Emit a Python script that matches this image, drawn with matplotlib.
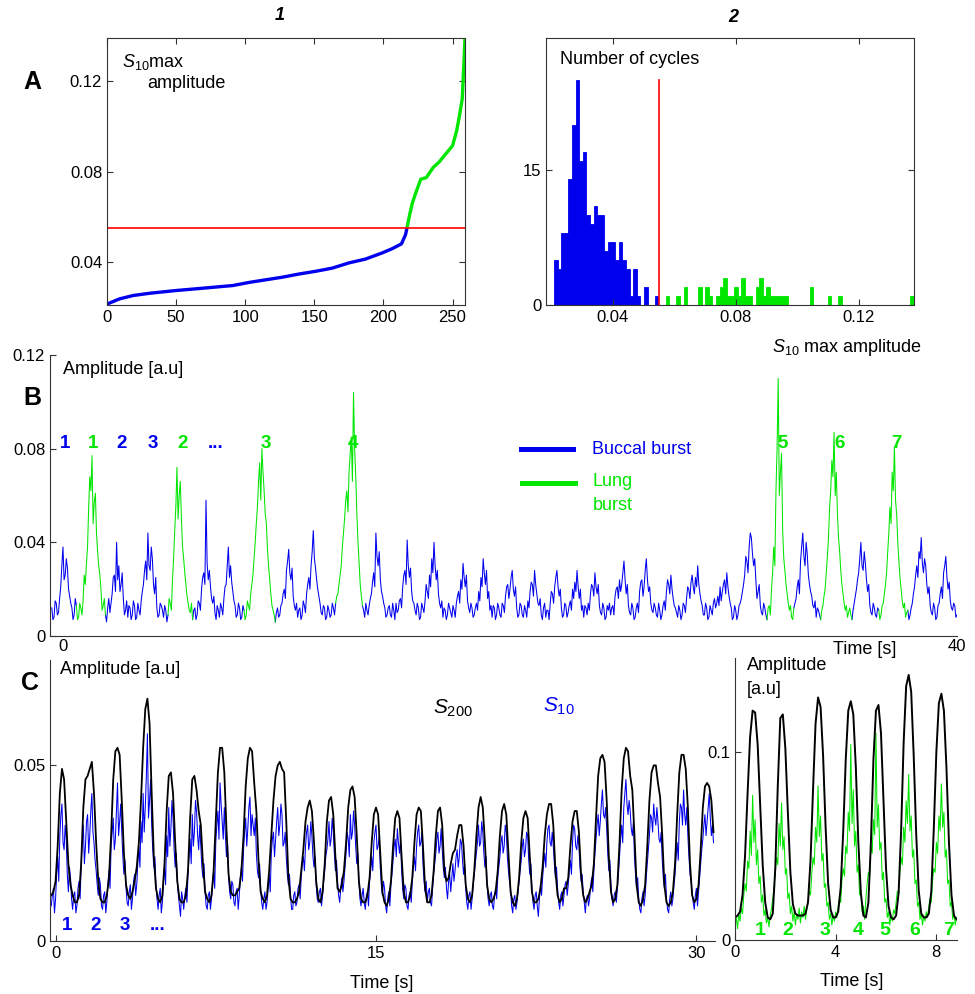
import numpy as np
import matplotlib
matplotlib.use('Agg')
import matplotlib.pyplot as plt
from matplotlib.lines import Line2D

plt.rcParams['font.family'] = ['Liberation Sans', 'DejaVu Sans']
plt.rcParams['mathtext.fontset'] = 'custom'
plt.rcParams['mathtext.rm'] = 'Liberation Sans'
plt.rcParams['mathtext.it'] = 'Liberation Sans:italic'
plt.rcParams['mathtext.bf'] = 'Liberation Sans:bold'
plt.rcParams['axes.linewidth'] = 0.8
plt.rcParams['axes.edgecolor'] = '#333333'
plt.rcParams['xtick.direction'] = 'in'
plt.rcParams['ytick.direction'] = 'in'
plt.rcParams['xtick.color'] = '#333333'
plt.rcParams['ytick.color'] = '#333333'
plt.rcParams['xtick.labelcolor'] = 'black'
plt.rcParams['ytick.labelcolor'] = 'black'

BLUE = '#0000ee'
GREEN = '#00e600'

# ---- data ----
threshold = 0.055

# A1: sorted S10 max amplitude per cycle (rank, value)
a1_rank = [0, 9, 19, 31, 50, 67, 91, 103, 127, 139, 151, 163, 175, 187, 199, 206,
           213, 216, 217, 219, 221, 223, 227, 231, 236, 240, 245, 250, 253, 255,
           257, 258, 259]
a1_value = [0.0214, 0.0237, 0.0252, 0.0262, 0.0274, 0.0283, 0.0296, 0.0310, 0.0333,
            0.0347, 0.0359, 0.0373, 0.0396, 0.0413, 0.0440, 0.0458, 0.0480, 0.0521,
            0.0550, 0.0610, 0.0662, 0.0699, 0.0766, 0.0773, 0.0818, 0.0840, 0.0877,
            0.0914, 0.0981, 0.1047, 0.1121, 0.1250, 0.1390]

# A2: histogram of the same values, 100 bins
hist_lo, hist_hi = 0.0209, 0.138
hist_counts = [5, 4, 8, 8, 14, 20, 25, 16, 17, 10, 9, 11, 10, 10, 6, 7, 7, 5, 7, 5,
               4, 1, 4, 1, 0, 2, 0, 0, 1, 0, 0, 1, 0, 0, 1, 0, 2, 0, 0, 0,
               2, 0, 2, 1, 0, 1, 2, 3, 1, 1, 2, 1, 3, 1, 1, 0, 2, 3, 1, 2,
               1, 1, 1, 1, 1, 0, 0, 0, 0, 0, 0, 2, 0, 0, 0, 0, 1, 0, 0, 1,
               0, 0, 0, 0, 0, 0, 0, 0, 0, 0, 0, 0, 0, 0, 0, 0, 0, 0, 0, 1]
hist_line_top = 25

# B: S10 amplitude (x1e-3), samples every 0.1 s from -0.5 s, plus the
# samples halfway between them
b_t0, b_dt = -0.5, 0.1
b_s10 = [12, 8, 14, 10, 21, 38, 26, 29, 17, 12,
         9, 13, 8, 12, 15, 22, 38, 68, 77, 57,
         44, 30, 20, 13, 9, 12, 10, 18, 26, 40,
         30, 22, 16, 11, 8, 12, 9, 13, 8, 11,
         15, 22, 32, 44, 28, 33, 18, 12, 9, 13,
         8, 11, 9, 14, 24, 45, 72, 60, 50, 33,
         22, 14, 10, 7, 12, 9, 14, 20, 27, 58,
         24, 21, 14, 10, 13, 8, 12, 16, 22, 38,
         30, 19, 13, 9, 12, 8, 11, 9, 13, 18,
         26, 40, 55, 74, 80, 62, 48, 30, 18, 11,
         6, 12, 9, 14, 20, 28, 37, 24, 17, 11,
         8, 12, 9, 13, 18, 25, 30, 45, 29, 20,
         14, 9, 12, 8, 11, 9, 12, 14, 18, 26,
         38, 50, 62, 70, 85, 104, 68, 40, 22, 13,
         8, 11, 13, 18, 27, 44, 30, 24, 17, 12,
         9, 13, 8, 11, 14, 11, 16, 21, 28, 41,
         25, 19, 14, 9, 12, 8, 12, 15, 19, 26,
         33, 40, 24, 18, 12, 8, 11, 9, 12, 8,
         11, 14, 19, 24, 31, 21, 15, 10, 12, 9,
         14, 19, 25, 33, 22, 16, 11, 8, 12, 9,
         12, 8, 13, 17, 22, 20, 28, 17, 12, 9,
         13, 8, 11, 15, 19, 22, 28, 18, 13, 9,
         12, 8, 11, 14, 18, 21, 28, 17, 12, 9,
         13, 10, 15, 20, 23, 28, 16, 11, 8, 12,
         14, 18, 21, 27, 18, 13, 9, 12, 8, 11,
         9, 13, 17, 21, 24, 22, 32, 18, 13, 9,
         12, 8, 14, 19, 24, 21, 33, 19, 14, 10,
         12, 8, 11, 9, 15, 19, 22, 26, 16, 12,
         8, 11, 9, 13, 16, 20, 23, 21, 25, 30,
         18, 13, 9, 12, 8, 11, 14, 12, 17, 21,
         19, 24, 27, 17, 12, 8, 11, 9, 14, 19,
         26, 32, 38, 42, 30, 24, 19, 13, 9, 12,
         7, 13, 20, 38, 62, 110, 70, 45, 28, 18,
         11, 8, 12, 16, 24, 32, 44, 30, 35, 22,
         17, 12, 8, 11, 7, 13, 20, 34, 55, 75,
         87, 70, 42, 28, 18, 11, 8, 12, 7, 14,
         20, 27, 40, 28, 31, 19, 13, 9, 12, 8,
         11, 9, 14, 22, 36, 55, 70, 81, 52, 32,
         20, 12, 8, 11, 9, 14, 21, 30, 36, 42,
         27, 30, 18, 13, 9, 12, 8, 14, 21, 27,
         34, 20, 15, 11, 13, 9]
b_s10_mid = [7, 15, 9, 16, 30, 24, 33, 20, 14, 7,
             16, 7, 14, 9, 26, 31, 55, 62, 48, 61,
             36, 26, 11, 16, 6, 16, 14, 25, 19, 24,
             19, 27, 9, 15, 13, 7, 15, 7, 14, 9,
             19, 28, 24, 30, 38, 22, 25, 8, 14, 11,
             13, 6, 16, 11, 33, 55, 50, 66, 38, 27,
             17, 11, 14, 11, 7, 15, 11, 25, 22, 31,
             28, 16, 17, 7, 11, 14, 9, 21, 30, 25,
             23, 15, 8, 14, 7, 13, 7, 15, 11, 22,
             33, 48, 66, 58, 70, 52, 37, 24, 13, 9,
             10, 8, 13, 18, 16, 32, 27, 29, 13, 14,
             11, 7, 15, 10, 22, 20, 36, 33, 24, 17,
             10, 13, 7, 13, 8, 14, 9, 17, 22, 30,
             44, 58, 53, 78, 66, 80, 52, 31, 17, 11,
             14, 9, 16, 23, 21, 34, 36, 19, 14, 8,
             12, 9, 14, 7, 10, 15, 12, 26, 22, 30,
             29, 15, 11, 14, 7, 14, 10, 22, 16, 21,
             27, 30, 28, 14, 15, 12, 7, 14, 10, 13,
             8, 17, 14, 20, 25, 26, 12, 14, 8, 12,
             11, 15, 21, 27, 28, 19, 13, 13, 7, 14,
             9, 14, 10, 21, 16, 25, 20, 21, 8, 14,
             9, 13, 8, 12, 23, 17, 22, 14, 16, 7,
             14, 11, 7, 19, 14, 25, 21, 20, 8, 14,
             8, 13, 11, 16, 19, 21, 20, 13, 13, 9,
             11, 22, 17, 21, 22, 10, 14, 7, 13, 14,
             12, 9, 20, 16, 19, 27, 24, 22, 10, 14,
             7, 12, 10, 23, 17, 28, 24, 21, 11, 14,
             9, 14, 7, 13, 11, 24, 18, 20, 13, 10,
             13, 7, 14, 10, 21, 16, 26, 18, 21, 22,
             15, 9, 14, 7, 13, 9, 16, 14, 13, 15,
             22, 18, 21, 14, 7, 13, 7, 13, 16, 22,
             34, 27, 44, 35, 33, 16, 22, 10, 14, 9,
             12, 9, 27, 30, 80, 60, 78, 33, 22, 14,
             13, 7, 14, 21, 18, 38, 34, 40, 26, 19,
             13, 15, 12, 9, 11, 17, 27, 42, 62, 68,
             60, 52, 36, 22, 14, 13, 10, 9, 11, 17,
             24, 33, 30, 36, 24, 22, 10, 14, 9, 12,
             7, 13, 18, 27, 44, 48, 62, 58, 40, 25,
             15, 14, 10, 7, 12, 18, 26, 25, 33, 31,
             33, 22, 21, 10, 14, 7, 13, 18, 16, 30,
             25, 23, 12, 14, 8]
# lung cycles (start, end) in s
b_lung = [(0.6, 1.9), (4.7, 5.8), (8.1, 9.5), (12.2, 13.4),
          (31.5, 32.7), (33.9, 35.3), (36.5, 37.8)]
b_labels = ['1', '1', '2', '3', '2', '...', '3', '4', '5', '6', '7']
b_label_t = [0.09, 1.34, 2.64, 4.03, 5.37, 6.85, 9.08, 12.98, 32.2, 34.76, 37.27]
b_label_lung = [False, True, False, False, True, False, True, True, True, True, True]

# C left: S200 and S10 (x1e-3), 0.1 s samples from -0.2 s (S10 also halfway)
c1_t0, c1_dt = -0.2, 0.1
c1_s200 = [13, 14, 17, 27, 42, 49, 46, 34, 22, 16,
           13, 11, 11, 13, 22, 38, 46, 47, 49, 51,
           42, 28, 17, 12, 11, 11, 13, 18, 30, 46,
           54, 55, 53, 40, 25, 16, 13, 12, 14, 17,
           21, 28, 40, 55, 66, 69, 62, 42, 24, 15,
           12, 11, 13, 22, 37, 47, 48, 42, 28, 17,
           12, 11, 11, 13, 20, 35, 46, 47, 43, 37,
           33, 22, 14, 12, 11, 13, 20, 34, 48, 55,
           55, 48, 32, 19, 14, 13, 13, 14, 15, 20,
           30, 44, 52, 55, 54, 45, 37, 23, 14, 12,
           11, 13, 20, 30, 40, 47, 50, 51, 49, 48,
           34, 18, 12, 11, 11, 12, 14, 20, 26, 34,
           38, 40, 37, 28, 17, 12, 11, 14, 22, 34,
           40, 41, 36, 24, 15, 14, 16, 20, 28, 38,
           43, 44, 41, 30, 17, 12, 11, 11, 13, 18,
           28, 36, 38, 36, 25, 14, 11, 10, 12, 17,
           27, 35, 37, 35, 24, 14, 11, 11, 13, 18,
           28, 36, 38, 37, 27, 15, 11, 11, 13, 20,
           30, 37, 38, 33, 20, 17, 18, 22, 25, 26,
           30, 33, 33, 27, 16, 12, 11, 13, 20, 30,
           38, 41, 38, 28, 16, 12, 11, 12, 14, 20,
           30, 37, 39, 36, 25, 14, 11, 10, 12, 18,
           28, 35, 37, 35, 24, 14, 11, 11, 12, 15,
           21, 30, 36, 39, 39, 33, 20, 13, 11, 12,
           15, 15, 18, 27, 34, 37, 37, 31, 19, 13,
           11, 12, 14, 16, 22, 35, 47, 52, 53, 51,
           40, 24, 14, 11, 12, 16, 28, 43, 52, 55,
           54, 47, 43, 30, 16, 11, 10, 12, 16, 27,
           40, 48, 50, 50, 45, 41, 30, 16, 11, 10,
           11, 14, 22, 36, 48, 53, 53, 49, 38, 22,
           13, 11, 12, 16, 26, 38, 44, 45, 44, 40,
           31]
c1_s10 = [10, 15, 12, 24, 30, 39, 26, 29, 14, 18,
          9, 14, 10, 17, 22, 33, 27, 36, 30, 42,
          28, 20, 13, 16, 9, 14, 11, 20, 27, 35,
          29, 45, 34, 31, 19, 15, 10, 16, 12, 19,
          16, 27, 34, 42, 38, 59, 40, 33, 21, 16,
          9, 15, 11, 21, 30, 38, 32, 35, 21, 17,
          10, 14, 9, 15, 19, 29, 36, 31, 37, 26,
          27, 18, 14, 9, 14, 12, 20, 28, 37, 45,
          34, 38, 24, 18, 12, 16, 10, 15, 13, 21,
          26, 35, 32, 41, 36, 30, 25, 18, 15, 9,
          14, 11, 19, 25, 31, 29, 38, 33, 36, 28,
          24, 16, 13, 9, 14, 11, 16, 18, 24, 27,
          33, 28, 30, 21, 16, 11, 15, 13, 20, 26,
          34, 29, 31, 20, 17, 11, 18, 17, 25, 29,
          36, 31, 33, 22, 17, 10, 15, 9, 14, 17,
          24, 28, 33, 27, 21, 13, 15, 8, 14, 16,
          23, 29, 32, 25, 20, 12, 15, 9, 14, 17,
          24, 27, 33, 28, 22, 14, 11, 15, 10, 19,
          25, 31, 27, 26, 18, 15, 17, 14, 22, 20,
          26, 24, 28, 19, 15, 9, 14, 12, 19, 25,
          33, 28, 31, 21, 16, 10, 14, 9, 15, 18,
          24, 30, 27, 31, 20, 15, 8, 13, 11, 17,
          23, 29, 26, 30, 19, 15, 9, 14, 7, 16,
          18, 25, 28, 33, 27, 27, 18, 15, 9, 14,
          13, 17, 16, 23, 28, 32, 26, 27, 17, 14,
          8, 13, 12, 18, 20, 29, 36, 34, 43, 35,
          32, 20, 16, 10, 14, 15, 24, 33, 38, 46,
          36, 37, 30, 24, 15, 12, 8, 14, 13, 22,
          30, 35, 39, 33, 34, 28, 23, 15, 12, 8,
          14, 12, 19, 28, 34, 38, 43, 33, 30, 19,
          14, 9, 15, 14, 22, 29, 36, 34, 42, 30,
          28]
c1_s10_mid = [13, 8, 19, 17, 36, 28, 33, 19, 21, 12,
              13, 8, 15, 12, 28, 22, 34, 25, 37, 31,
              23, 16, 18, 10, 13, 8, 16, 15, 31, 26,
              37, 30, 39, 24, 23, 11, 14, 9, 17, 13,
              22, 21, 28, 31, 47, 35, 46, 26, 24, 12,
              13, 8, 17, 16, 24, 27, 40, 26, 25, 13,
              7, 12, 13, 11, 24, 22, 27, 40, 30, 33,
              21, 22, 10, 13, 9, 16, 15, 33, 29, 39,
              29, 30, 28, 14, 17, 11, 14, 9, 18, 17,
              31, 27, 38, 30, 33, 35, 20, 22, 11, 12,
              9, 15, 14, 29, 24, 34, 30, 39, 27, 31,
              19, 19, 9, 13, 10, 15, 12, 22, 20, 31,
              26, 34, 24, 24, 12, 14, 10, 17, 24, 29,
              27, 35, 25, 23, 13, 15, 14, 21, 31, 24,
              29, 37, 27, 25, 12, 13, 11, 13, 10, 20,
              20, 31, 26, 30, 16, 17, 10, 12, 10, 19,
              27, 24, 28, 29, 15, 16, 10, 13, 11, 21,
              20, 31, 27, 31, 17, 17, 14, 11, 15, 22,
              29, 25, 32, 21, 21, 12, 19, 18, 17, 24,
              21, 29, 23, 22, 11, 13, 9, 16, 22, 28,
              27, 34, 25, 24, 12, 13, 10, 13, 12, 21,
              28, 25, 33, 24, 17, 10, 12, 9, 14, 20,
              27, 24, 31, 23, 22, 11, 13, 10, 12, 13,
              22, 21, 32, 28, 31, 22, 21, 11, 13, 10,
              16, 13, 20, 19, 33, 27, 30, 21, 19, 11,
              12, 10, 16, 14, 25, 33, 30, 39, 36, 38,
              25, 23, 12, 13, 11, 19, 29, 28, 42, 39,
              40, 32, 34, 19, 18, 9, 12, 10, 18, 26,
              36, 31, 35, 38, 29, 31, 18, 19, 9, 12,
              10, 16, 24, 23, 39, 33, 36, 38, 24, 17,
              11, 13, 10, 18, 26, 33, 30, 38, 35, 33]
c1_labels = ['1', '2', '3', '...']
c1_label_t = [0.56, 1.85, 3.23, 4.78]

# C right: lung cycles only (x1e-3)
c2_dt_s200 = 0.1
c2_s200 = [12, 13, 15, 24, 45, 78, 108, 122, 121, 104,
           72, 40, 20, 12, 11, 14, 38, 82, 118, 120,
           102, 68, 36, 19, 14, 13, 13, 13, 14, 20,
           42, 80, 115, 129, 124, 98, 60, 30, 16, 12,
           12, 15, 28, 58, 96, 122, 127, 120, 92, 52,
           25, 13, 12, 20, 52, 96, 122, 125, 110, 74,
           38, 18, 12, 11, 13, 25, 58, 105, 135, 141,
           132, 98, 56, 26, 14, 12, 12, 14, 26, 60,
           100, 126, 131, 122, 92, 52, 24, 13, 11]
c2_dt_s10 = 0.05
c2_s10 = [8, 12, 6, 14, 10, 17, 14, 24, 30, 26, 42, 38, 58, 45, 77, 52, 64, 40, 48, 30,
          34, 20, 24, 13, 16, 9, 12, 7, 13, 17, 22, 28, 36, 44, 40, 62, 50, 73, 48, 55,
          35, 38, 22, 25, 14, 18, 10, 15, 8, 14, 11, 17, 9, 15, 12, 18, 11, 16, 20, 26,
          24, 35, 44, 40, 60, 52, 82, 55, 66, 42, 46, 28, 30, 18, 20, 11, 14, 8, 13, 10,
          15, 12, 18, 22, 20, 32, 38, 34, 50, 46, 68, 58, 104, 62, 80, 50, 58, 36, 40, 24,
          26, 15, 18, 11, 22, 30, 36, 34, 50, 46, 64, 56, 110, 60, 72, 48, 52, 32, 36, 20,
          22, 12, 15, 8, 13, 10, 16, 14, 20, 26, 24, 36, 44, 40, 60, 52, 74, 62, 88, 58,
          66, 44, 48, 30, 32, 18, 20, 11, 14, 8, 13, 10, 15, 12, 18, 22, 20, 32, 38, 36,
          52, 46, 66, 58, 83, 60, 68, 44, 48, 30, 32, 18, 20, 11, 14, 8, 12]
c2_labels = ['1', '2', '3', '4', '5', '6', '7']
c2_label_t = [1.0, 2.11, 3.59, 4.9, 5.94, 7.13, 8.49]


def interleave(main, mid):
    out = np.empty(len(main) + len(mid))
    out[0::2] = main
    out[1::2] = mid
    return out


# ---- figure ----
W, H = 975, 994
fig = plt.figure(figsize=(W / 100, H / 100), dpi=100)


def add_ax(l, t, r, b):
    return fig.add_axes([l / W, 1 - b / H, (r - l) / W, (b - t) / H])


def ftext(x, y, s, **kw):
    kw.setdefault('va', 'center')
    return fig.text(x / W, 1 - y / H, s, **kw)


TICK = 12
LAB = 13

# A1
ax = add_ax(107, 38, 465, 305)
r = np.array(a1_rank)
v = np.array(a1_value)
low = v <= threshold
high = v >= threshold
ax.plot(r[low], v[low], color=BLUE, lw=2.4, solid_capstyle='butt')
ax.plot(r[high], v[high], color=GREEN, lw=2.4, solid_capstyle='butt')
ax.axhline(threshold, color='red', lw=1.2)
ax.set_xlim(0, 259)
ax.set_ylim(0.021, 0.139)
ax.set_xticks([0, 50, 100, 150, 200, 250])
ax.set_yticks([0.04, 0.08, 0.12])
ax.set_yticklabels(['0.04', '0.08', '0.12'])
ax.tick_params(top=True, right=True, labelsize=TICK, length=4)

# A2
ax = add_ax(546, 38, 914, 305)
edges = np.linspace(hist_lo, hist_hi, len(hist_counts) + 1)
centers = (edges[:-1] + edges[1:]) / 2
bcol = [BLUE if c < threshold else GREEN for c in centers]
ax.bar(centers, hist_counts, width=edges[1] - edges[0], color=bcol, edgecolor=bcol,
       linewidth=0.6)
ax.plot([threshold, threshold], [0, hist_line_top], color='red', lw=1.2)
ax.set_xlim(0.0183, 0.138)
ax.set_ylim(0, 29.7)
ax.set_xticks([0.04, 0.08, 0.12])
ax.set_xticklabels(['0.04', '0.08', '0.12'])
ax.set_yticks([0, 15])
ax.tick_params(top=True, right=True, labelsize=TICK, length=4)

# B
ax = add_ax(50, 355, 957, 636)
yb = interleave(b_s10, b_s10_mid) / 1000
tb = np.round(b_t0 + b_dt / 2 * np.arange(len(yb)), 3)
in_lung = np.zeros(len(tb), bool)
inner = np.zeros(len(tb), bool)
for s, e in b_lung:
    in_lung |= (tb >= s) & (tb <= e)
    inner |= (tb > s) & (tb < e)
ax.plot(tb, np.where(inner, np.nan, yb), color=BLUE, lw=0.75)
ax.plot(tb, np.where(in_lung, yb, np.nan), color=GREEN, lw=0.75)
for lab, t, lung in zip(b_labels, b_label_t, b_label_lung):
    ax.text(t, 0.0824, lab, color=GREEN if lung else BLUE, fontsize=13.5,
            fontweight='bold', ha='center', va='center')
ax.set_xlim(-0.58, 40)
ax.set_ylim(0, 0.12)
ax.spines['top'].set_visible(False)
ax.spines['right'].set_visible(False)
ax.set_xticks([0, 40])
ax.set_yticks([0, 0.04, 0.08, 0.12])
ax.set_yticklabels(['0', '0.04', '0.08', '0.12'])
ax.tick_params(labelsize=TICK, length=4)
ax.tick_params(axis='x', length=0, pad=2)

# C left
ax = add_ax(50, 660, 715, 941)
yc = interleave(c1_s10, c1_s10_mid) / 1000
tc_fast = c1_t0 + c1_dt / 2 * np.arange(len(yc))
tc = c1_t0 + c1_dt * np.arange(len(c1_s200))
ax.plot(tc_fast, yc, color=BLUE, lw=0.75)
ax.plot(tc, np.array(c1_s200) / 1000, color='black', lw=1.3)
for lab, t in zip(c1_labels, c1_label_t):
    ax.text(t, 0.0043, lab, color=BLUE, fontsize=13.5, fontweight='bold',
            ha='center', va='center')
ax.set_xlim(-0.26, 30.87)
ax.set_ylim(0, 0.08)
ax.spines['top'].set_visible(False)
ax.spines['right'].set_visible(False)
ax.set_xticks([0, 15, 30])
ax.set_yticks([0, 0.05])
ax.set_yticklabels(['0', '0.05'])
ax.tick_params(labelsize=TICK, length=4)

# C right
ax = add_ax(735, 658, 957, 940)
t2a = c2_dt_s10 * np.arange(len(c2_s10))
t2b = c2_dt_s200 * np.arange(len(c2_s200))
ax.plot(t2a, np.array(c2_s10) / 1000, color=GREEN, lw=0.75)
ax.plot(t2b, np.array(c2_s200) / 1000, color='black', lw=1.4)
for lab, t in zip(c2_labels, c2_label_t):
    ax.text(t, 0.0053, lab, color=GREEN, fontsize=14, fontweight='bold',
            ha='center', va='center')
ax.set_xlim(0, 8.82)
ax.set_ylim(0, 0.15)
ax.spines['top'].set_visible(False)
ax.spines['right'].set_visible(False)
ax.set_xticks([0, 4, 8])
ax.set_yticks([0, 0.1])
ax.set_yticklabels(['0', '0.1'])
ax.tick_params(labelsize=TICK, length=4)

# ---- text ----
for x, y, s in [(32, 82, 'A'), (32, 398, 'B'), (30, 683, 'C')]:
    ftext(x, y, s, fontsize=18, fontweight='bold', ha='center')
ftext(280, 15, '1', fontsize=13, fontweight='bold', fontstyle='italic', ha='center')
ftext(733, 18, '2', fontsize=13, fontweight='bold', fontstyle='italic', ha='center')

ftext(122, 62, r'$\mathit{S_{10}}$max', fontsize=LAB)
ftext(147, 84, 'amplitude', fontsize=LAB)
ftext(560, 60, 'Number of cycles', fontsize=LAB)
ftext(772, 347, r'$\mathit{S_{10}}$ max amplitude', fontsize=LAB)

ftext(63, 370, 'Amplitude [a.u]', fontsize=LAB)
ftext(865, 650, 'Time [s]', fontsize=LAB, ha='center')
fig.add_artist(Line2D([521 / W, 573 / W], [1 - 449 / H] * 2, color=BLUE, lw=3.6))
fig.add_artist(Line2D([522 / W, 575 / W], [1 - 483 / H] * 2, color=GREEN, lw=3.6))
ftext(592, 449, 'Buccal burst', fontsize=LAB, color=BLUE)
ftext(593, 482, 'Lung', fontsize=LAB, color=GREEN)
ftext(593, 505, 'burst', fontsize=LAB, color=GREEN)

ftext(60, 670, 'Amplitude [a.u]', fontsize=LAB)
ftext(433, 708, r'$\mathit{S_{200}}$', fontsize=15)
ftext(543, 706, r'$\mathit{S_{10}}$', fontsize=15, color=BLUE)
ftext(382, 983, 'Time [s]', fontsize=LAB, ha='center')
ftext(747, 665, 'Amplitude', fontsize=LAB)
ftext(747, 690, '[a.u]', fontsize=LAB)
ftext(852, 982, 'Time [s]', fontsize=LAB, ha='center')

fig.savefig('out.png', dpi=100)
